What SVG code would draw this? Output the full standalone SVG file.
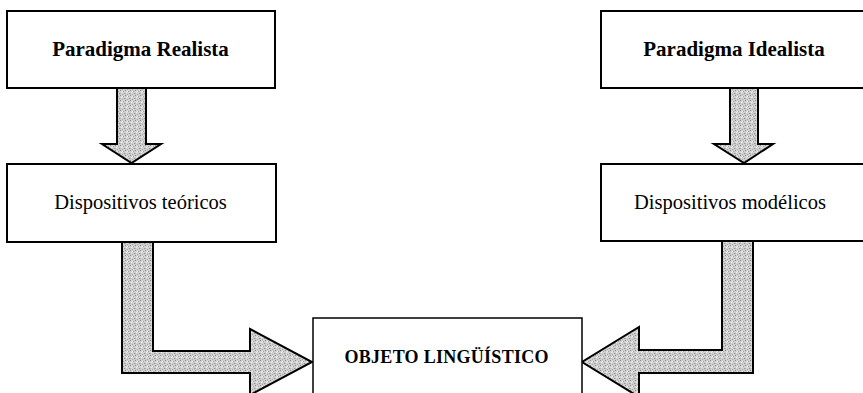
<svg xmlns="http://www.w3.org/2000/svg" width="863" height="393" viewBox="0 0 863 393">
<style>
.box{fill:#fff;stroke:#000;stroke-width:2}
.box2{fill:#fff;stroke:#000;stroke-width:1.5}
.arr{fill:url(#stip);stroke:#000;stroke-width:2;stroke-linejoin:miter}
.tb{font-family:"Liberation Serif","Times New Roman",serif;font-weight:bold;font-size:21px;text-anchor:middle;fill:#000}
.tr{font-family:"Liberation Serif","Times New Roman",serif;font-size:20.5px;text-anchor:middle;fill:#000}
.tc{font-family:"Liberation Serif","Times New Roman",serif;font-weight:bold;font-size:18px;fill:#000}
</style>
<defs>
<pattern id="stip" width="5" height="5" patternUnits="userSpaceOnUse" shape-rendering="crispEdges">
<rect width="5" height="5" fill="#d0d0d0"/>
<rect x="0" y="0" width="1" height="1" fill="#8a8a8a"/>
<rect x="3" y="1" width="1" height="1" fill="#a0a0a0"/>
<rect x="1" y="2" width="1" height="1" fill="#eee"/>
<rect x="4" y="3" width="1" height="1" fill="#959595"/>
<rect x="2" y="4" width="1" height="1" fill="#aaa"/>
<rect x="2" y="1" width="1" height="1" fill="#f2f2f2"/>
<rect x="0" y="3" width="1" height="1" fill="#b5b5b5"/>
</pattern>
</defs>
<g id="connectors">
<path class="arr" d="M117,88 L146,88 L146,144 L161,144 L131.5,163 L102,144 L117,144 Z"/>
<path class="arr" d="M730,88 L758,88 L758,144 L773,144 L744,163 L714,144 L730,144 Z"/>
<path class="arr" d="M122,242 L153,242 L153,351 L250,351 L250,329 L312,362 L250,395 L250,373 L122,373 Z"/>
<path class="arr" d="M753,241 L722,241 L722,350 L639,350 L639,327 L582,362 L639,397 L639,373 L753,373 Z"/>
</g>
<g id="paradigma-realista">
<rect class="box" x="7" y="11" width="268" height="77"/>
<text class="tb" x="140.5" y="56">Paradigma Realista</text>
</g>
<g id="dispositivos-teoricos">
<rect class="box" x="7" y="164" width="269" height="78"/>
<text class="tr" x="140.5" y="209">Dispositivos teóricos</text>
</g>
<g id="paradigma-idealista">
<rect class="box" x="601" y="11" width="266" height="77"/>
<text class="tb" x="734" y="56">Paradigma Idealista</text>
</g>
<g id="dispositivos-modelicos">
<rect class="box" x="601" y="164" width="266" height="77"/>
<text class="tr" x="730" y="209">Dispositivos modélicos</text>
</g>
<g id="objeto-linguistico">
<rect class="box2" x="313" y="318" width="269" height="90"/>
<text class="tc" x="344.5" y="363" textLength="204" lengthAdjust="spacing">OBJETO LINGÜÍSTICO</text>
</g>
</svg>
